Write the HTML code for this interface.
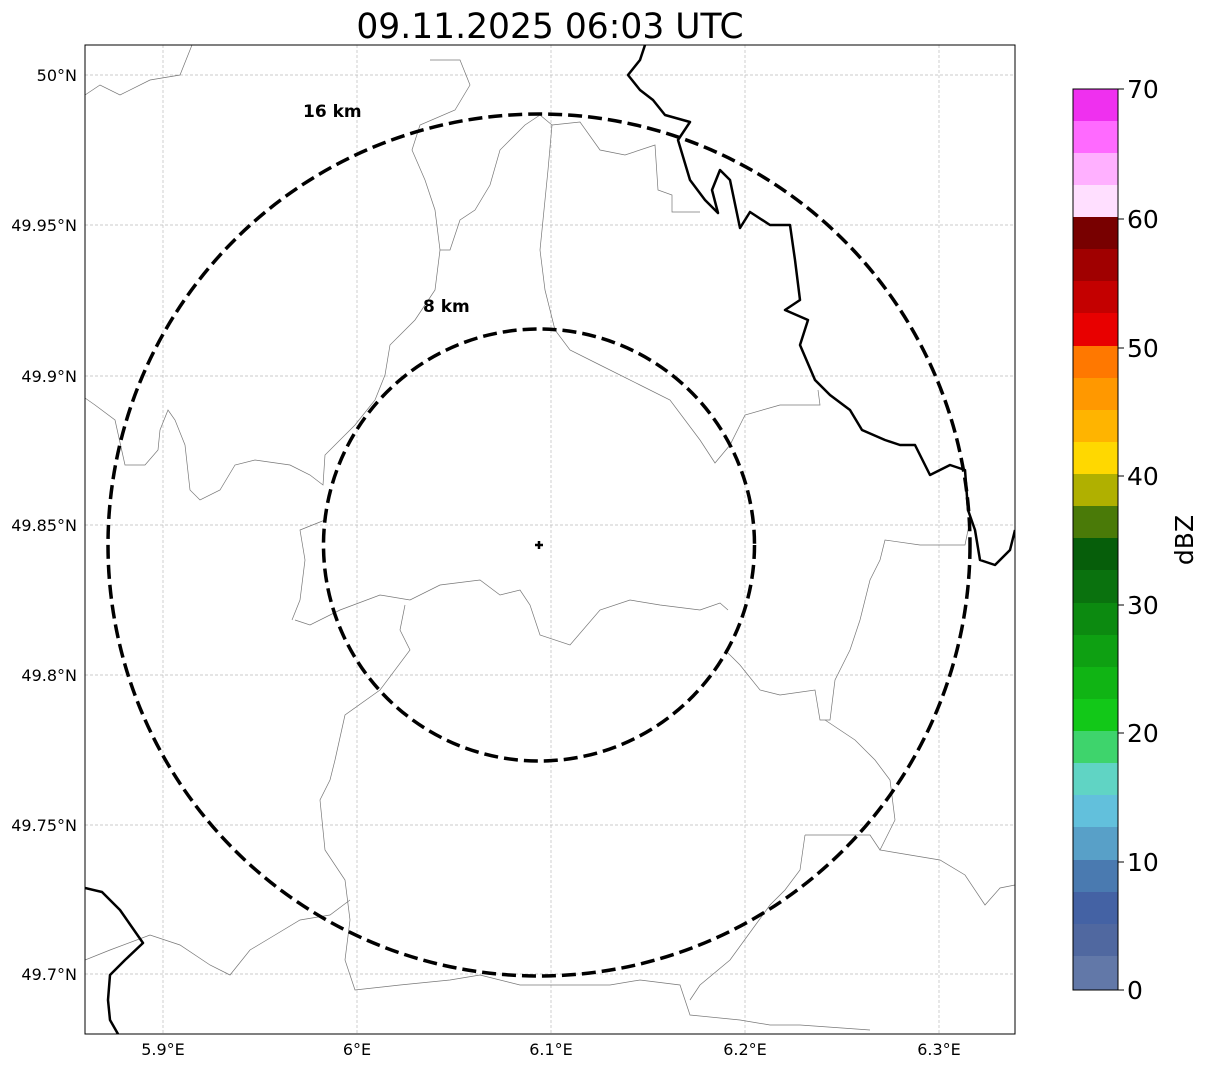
<!DOCTYPE html>
<html><head><meta charset="utf-8"><style>body{margin:0;background:#fff}svg{display:block}text{font-family:"DejaVu Sans","Liberation Sans",sans-serif}</style></head>
<body>
<svg width="1207" height="1069" viewBox="0 0 1207 1069" xmlns="http://www.w3.org/2000/svg">
<text x="550" y="38" font-size="34.5" text-anchor="middle">09.11.2025 06:03 UTC</text>
<defs><clipPath id="c"><rect x="85" y="45" width="930" height="989"/></clipPath></defs>
<g stroke="#bbb" stroke-width="0.7" stroke-dasharray="3,2">
<line x1="163" y1="45" x2="163" y2="1034"/><line x1="357" y1="45" x2="357" y2="1034"/><line x1="551" y1="45" x2="551" y2="1034"/><line x1="745" y1="45" x2="745" y2="1034"/><line x1="939" y1="45" x2="939" y2="1034"/>
<line x1="85" y1="75" x2="1015" y2="75"/><line x1="85" y1="225" x2="1015" y2="225"/><line x1="85" y1="376" x2="1015" y2="376"/><line x1="85" y1="525" x2="1015" y2="525"/><line x1="85" y1="675" x2="1015" y2="675"/><line x1="85" y1="825" x2="1015" y2="825"/><line x1="85" y1="974" x2="1015" y2="974"/>
</g>
<g clip-path="url(#c)" fill="none">
<g stroke="#777" stroke-width="0.7">
<polyline points="85,95 100,85 120,95 150,80 180,75 192,45"/>
<polyline points="430,60 460,60 470,85 455,110 420,125 412,150 425,180 435,210 440,250 435,290 415,320 390,345 385,375 375,400 355,425 340,440 325,455 323,485 310,475 290,465 255,460 235,465 220,490 200,500 190,490 185,445 175,420 168,410 160,430 158,450 145,465 125,465 115,420 95,405 85,398"/>
<polyline points="540,115 525,125 500,150 490,185 475,210 460,220 450,250 440,250"/>
<polyline points="540,115 552,125 548,170 545,200 540,250 545,290 555,330 570,350 600,365 640,385 670,400 700,440 715,463 730,445 745,415 780,405 820,405 818,390"/>
<polyline points="552,125 580,122 600,150 625,155 655,145 658,190 672,195 672,212 700,212"/>
<polyline points="295,620 310,625 340,610 380,595 410,600 440,585 480,580 500,595 520,590 530,605 540,635 570,645 600,610 630,600 660,605 700,610 720,603 728,610"/>
<polyline points="405,605 400,630 410,650 380,690 345,715 335,760 330,780 320,800 325,850 345,880 350,920 345,960 355,990 400,985 450,980 480,975 520,985 560,985 610,985 640,980 680,985 690,1015 740,1020 770,1025 800,1025 870,1030"/>
<polyline points="970,520 965,545 920,545 885,540 880,560 870,580 860,620 850,650 835,680 830,720 820,720 815,690 780,695 760,690 740,665 725,650"/>
<polyline points="825,720 855,740 875,760 890,780 895,820 880,850 910,855 940,860 965,875 985,905 1000,888 1015,885"/>
<polyline points="805,835 870,835 880,850"/>
<polyline points="805,835 800,870 785,890 770,905 730,960 700,985 690,1000"/>
<polyline points="325,520 300,530 305,560 300,600 292,620"/>
<polyline points="85,960 110,950 150,935 180,945 210,965 230,975 250,950 275,935 300,920 330,915 350,900"/>
</g>
<g stroke="#000" stroke-width="2.5" stroke-linejoin="round">
<polyline points="645,45 640,60 628,75 640,90 653,100 665,115 690,122 678,140 690,180 705,200 718,213 712,190 720,170 730,180 740,228 750,212 770,225 790,225 795,260 800,300 785,310 808,320 800,345 815,380 830,395 850,410 862,430 885,440 900,445 915,445 930,475 950,465 965,470 968,510 975,530 980,560 995,565 1010,550 1015,530"/>
<polyline points="85,888 102,892 120,910 143,943 125,960 110,975 108,1000 110,1020 118,1034"/>
</g>
<g stroke="#000" stroke-width="3.5" stroke-dasharray="14,6">
<ellipse cx="539" cy="545" rx="431" ry="431"/>
<ellipse cx="539" cy="545" rx="215.5" ry="216"/>
</g>
<path d="M535,545H543M539,541V549" stroke="#000" stroke-width="2.5"/>
</g>
<rect x="85" y="45" width="930" height="989" fill="none" stroke="#000" stroke-width="1"/>
<text x="303" y="117" font-size="17" font-weight="bold">16 km</text>
<text x="423" y="312" font-size="17" font-weight="bold">8 km</text>
<g font-size="16" text-anchor="middle">
<text x="163" y="1055">5.9°E</text><text x="357" y="1055">6°E</text><text x="551" y="1055">6.1°E</text><text x="745" y="1055">6.2°E</text><text x="939" y="1055">6.3°E</text>
</g>
<g font-size="16" text-anchor="end">
<text x="77" y="81">50°N</text><text x="77" y="231">49.95°N</text><text x="77" y="382">49.9°N</text><text x="77" y="531">49.85°N</text><text x="77" y="681">49.8°N</text><text x="77" y="831">49.75°N</text><text x="77" y="980">49.7°N</text>
</g>
<g>
<rect x="1073" y="89" width="45" height="33" fill="#ef30ef"/>
<rect x="1073" y="121" width="45" height="33" fill="#ff6aff"/>
<rect x="1073" y="153" width="45" height="33" fill="#ffb0ff"/>
<rect x="1073" y="185" width="45" height="33" fill="#ffdfff"/>
<rect x="1073" y="217" width="45" height="33" fill="#780000"/>
<rect x="1073" y="249" width="45" height="33" fill="#a00000"/>
<rect x="1073" y="281" width="45" height="33" fill="#c40000"/>
<rect x="1073" y="313" width="45" height="34" fill="#e80000"/>
<rect x="1073" y="346" width="45" height="33" fill="#ff7800"/>
<rect x="1073" y="378" width="45" height="33" fill="#ff9800"/>
<rect x="1073" y="410" width="45" height="33" fill="#ffb400"/>
<rect x="1073" y="442" width="45" height="33" fill="#ffd800"/>
<rect x="1073" y="474" width="45" height="33" fill="#b0b000"/>
<rect x="1073" y="506" width="45" height="33" fill="#4a7a08"/>
<rect x="1073" y="538" width="45" height="33" fill="#065e0a"/>
<rect x="1073" y="570" width="45" height="34" fill="#0a720e"/>
<rect x="1073" y="603" width="45" height="33" fill="#0c8a10"/>
<rect x="1073" y="635" width="45" height="33" fill="#0ea012"/>
<rect x="1073" y="667" width="45" height="33" fill="#10b414"/>
<rect x="1073" y="699" width="45" height="33" fill="#12c818"/>
<rect x="1073" y="731" width="45" height="33" fill="#3ed46c"/>
<rect x="1073" y="763" width="45" height="33" fill="#60d4c4"/>
<rect x="1073" y="795" width="45" height="33" fill="#62c0dc"/>
<rect x="1073" y="827" width="45" height="34" fill="#58a0c8"/>
<rect x="1073" y="860" width="45" height="33" fill="#4a7ab0"/>
<rect x="1073" y="892" width="45" height="33" fill="#4462a4"/>
<rect x="1073" y="924" width="45" height="33" fill="#5068a0"/>
<rect x="1073" y="956" width="45" height="34" fill="#6278a8"/>
<rect x="1073" y="89" width="45" height="901" fill="none" stroke="#000" stroke-width="1"/>
</g>
<g stroke="#000"><line x1="1118" y1="990" x2="1124" y2="990"/><line x1="1118" y1="862" x2="1124" y2="862"/><line x1="1118" y1="733" x2="1124" y2="733"/><line x1="1118" y1="605" x2="1124" y2="605"/><line x1="1118" y1="476" x2="1124" y2="476"/><line x1="1118" y1="348" x2="1124" y2="348"/><line x1="1118" y1="219" x2="1124" y2="219"/><line x1="1118" y1="89" x2="1124" y2="89"/></g>
<g font-size="25">
<text x="1127" y="999">0</text><text x="1127" y="871">10</text><text x="1127" y="742">20</text><text x="1127" y="614">30</text><text x="1127" y="485">40</text><text x="1127" y="357">50</text><text x="1127" y="228">60</text><text x="1127" y="98">70</text>
</g>
<text transform="translate(1193,540) rotate(-90)" font-size="25" text-anchor="middle">dBZ</text>
</svg>
</body></html>
